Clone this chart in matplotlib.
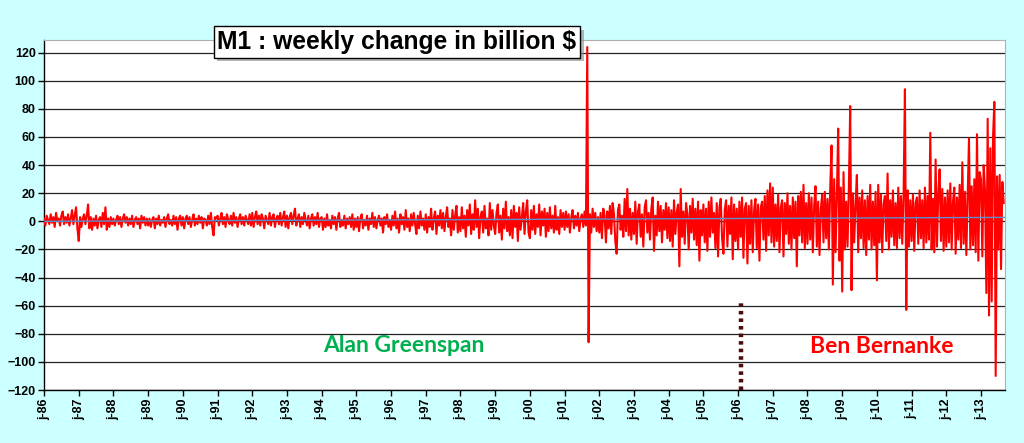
#!/usr/bin/env python3
"""
M1: weekly change in billion $ (1986 - 2013), Greenspan / Bernanke era.
Values read off the reference chart, roughly two per month.
"""
import numpy as np
import matplotlib.pyplot as plt
from matplotlib import patheffects

# =============================================================================
# Data (billion $), one list per year, 26 points per year
# =============================================================================

y1986 = [2, -3, 4, 1, -2, 5, -1, 3, -4, 6, 0, 2, -3, 4, 7, -2, 3, -1, 5, -3, 2, 8, -2, 4, 10, -5]
y1987 = [-14, 3, -4, 2, 5, -2, 4, 12, -5, 3, -6, 2, -3, 4, -5, 1, 3, -4, 6, -2, 10, -6, 2, -4, 3, -2]
y1988 = [2, -3, 1, 4, -2, 3, -4, 2, 5, -1, 3, -3, 2, -2, 4, -4, 1, 3, -2, 2, -5, 4, -1, 3, -3, 2]
y1989 = [-3, 2, -4, 1, 3, -5, 2, -2, 4, -3, 1, -1, 3, -4, 2, 5, -2, 1, -3, 4, -2, 3, -6, 2, 4, -3]
y1990 = [3, -5, 2, 4, -2, 3, -4, 1, 5, -3, 2, -2, 4, -1, 3, -5, 2, 1, -3, 4, -2, 6, -4, -10, 3, 2]
y1991 = [4, -3, 2, 6, -2, 3, -4, 5, 1, -2, 4, -3, 6, -1, 3, -4, 2, 5, -2, 3, -3, 4, 1, -2, 5, -3]
y1992 = [6, -4, 3, 7, -2, 4, -3, 5, 2, -5, 4, 1, -2, 6, -3, 3, 5, -4, 2, 4, -2, 6, -3, 3, 7, -4]
y1993 = [4, -5, 3, 6, -2, 4, 9, -3, 2, 5, -4, 3, -2, 6, 1, -3, 4, -5, 2, 5, -3, 3, -2, 6, -4, 2]
y1994 = [3, -6, 2, -4, 5, -3, 1, -5, 4, -2, 3, -6, 2, 6, -4, 1, -3, 4, -5, 2, -2, 3, -4, 5, -6, 2]
y1995 = [-4, 3, -7, 2, 5, -5, 1, -3, 4, -6, 2, -2, 6, -4, 3, -5, 1, 4, -3, 2, -8, 3, -2, 5, -4, 1]
y1996 = [-6, 4, -3, 7, -5, 2, -8, 5, -2, 3, -6, 8, -4, 2, -7, 5, -3, 6, -2, -9, 4, -5, 7, -3, 2, -6]
y1997 = [5, -8, 3, -4, 9, -6, 2, 7, -9, 4, -3, 8, -5, 6, -7, 3, 10, -4, 2, -10, 8, -6, 4, 11, -8, 3]
y1998 = [-7, 10, -5, 4, -11, 8, -3, 12, -9, 5, -6, 15, -4, 9, -12, 3, 7, -8, 11, -5, 2, -10, 13, -6, 8, -3]
y1999 = [-9, 6, 12, -8, 4, -13, 9, -5, 14, -7, 3, -10, 8, -12, 11, -4, 6, -14, 10, -6, 3, 13, -9, 7, 15, -8]
y2000 = [-12, 8, -6, 11, -9, 5, -4, 12, -10, 7, -3, 9, -11, 6, -7, 10, -5, 4, -8, 11, -6, 3, -9, 8, -4, 6]
y2001 = [-6, 7, -4, 5, -8, 3, 8, -5, 4, -3, 6, -7, 2, 5, -4, 7, -3, 124, -86, 5, -8, 9, -4, 6, -7, 3]
y2002 = [-8, 6, -12, 9, 4, -15, 7, -5, 11, -9, 13, 5, -14, -23, 8, 12, -6, 4, -11, 16, -7, 23, -10, 9, -13, 6]
y2003 = [-9, 14, -16, 7, 12, -11, 5, -18, 10, 15, -8, 6, -13, 9, 17, -21, 4, -10, 14, -7, 11, -15, 8, -6, 13, -12]
y2004 = [10, -14, 8, -18, 15, -9, 6, 12, -32, 23, -11, 7, -16, 13, 5, -20, 11, -8, 16, -13, 9, -17, 14, -28, 8, -10]
y2005 = [12, -15, 9, -21, 14, -11, 17, -8, 6, -19, 13, -25, 10, 16, -12, -23, 8, 15, -18, 11, -9, 17, -27, 12, -14, 9]
y2006 = [-20, 14, -11, 17, -26, 9, 13, -30, 11, -16, 15, -22, 8, 16, -19, 12, -28, 10, 14, -13, 18, -21, 22, -10, 27, -15]
y2007 = [24, -18, 12, -14, 19, -22, 10, 15, -25, 13, -9, 20, -16, 11, -20, 17, -12, 14, -32, 18, -10, 21, -15, 26, -19, 13]
y2008 = [-16, 20, -13, 17, -22, 11, 25, -18, 14, -24, 9, 19, -15, 21, -12, 16, -20, 23, 54, -45, 30, -22, 18, 66, -28, 24]
y2009 = [-50, 35, -20, 14, -18, 24, 82, -49, 20, -15, 12, 33, -22, 17, -12, 22, -19, 15, -24, 18, -13, 26, -20, 14, -17, 21]
y2010 = [-42, 26, -15, 19, -22, 12, 18, -14, 34, -20, 15, -11, 22, -17, 13, -19, 24, -12, 18, -16, 20, 94, -63, 22, -18, 15]
y2011 = [-14, 19, -21, 13, 17, -16, 22, -12, 15, -19, 24, -15, 18, -13, 63, -20, 16, -22, 44, -18, 20, 37, -14, 23, -21, 17]
y2012 = [-18, 22, -15, 27, -20, 14, 24, -23, 17, -13, 26, -19, 42, -16, 21, -24, 18, 59, -20, 25, -17, 30, -22, 62, -28, 35]
y2013 = [30, -25, 40, 22, -51, 73, -67, 52, -57, 60, 85, -110, 32, -20, 33, -34, 28, 13]

YEARS = list(range(1986, 2014))
YEAR_DATA = [y1986, y1987, y1988, y1989, y1990, y1991, y1992, y1993, y1994, y1995,
             y1996, y1997, y1998, y1999, y2000, y2001, y2002, y2003, y2004, y2005,
             y2006, y2007, y2008, y2009, y2010, y2011, y2012, y2013]
TICK_LABELS = [f"j-{y % 100:02d}" for y in YEARS]

TREND_ENDS = [0.0, 2.8]          # linear trend (blue), start / end value
BERNANKE_START = 2006.08         # Feb 2006
X_END = 2013.69

# =============================================================================
# Time axis (decimal years)
# =============================================================================

t = np.concatenate([yr + np.arange(len(v)) / 26.0 for yr, v in zip(YEARS, YEAR_DATA)])
values = np.concatenate([np.array(v, dtype=float) for v in YEAR_DATA])

# =============================================================================
# Plot
# =============================================================================

BG = "#ccffff"
fig = plt.figure(figsize=(10.24, 4.43), dpi=100, facecolor=BG)
ax = fig.add_axes([0.043, 0.1196, 0.9384, 0.7901])
ax.set_facecolor("white")

ax.plot(t, values, color="#ff0000", linewidth=1.5, zorder=3)
ax.plot([1986, X_END], TREND_ENDS, color="#5b8fd0", linewidth=1.0, zorder=4)

ax.plot([BERNANKE_START, BERNANKE_START], [-120, -56], color="#4a0d0d",
        linewidth=3.2, linestyle=(0, (0.8, 0.9)), zorder=5, clip_on=False)

ax.set_xlim(1986, X_END)
ax.set_ylim(-120, 129)
ax.set_yticks(np.arange(-120, 121, 20))
ax.set_xticks(YEARS)
ax.set_xticklabels(TICK_LABELS, rotation=90)
ax.grid(axis="y", color="#222222", linewidth=0.9, zorder=1)
ax.set_axisbelow(True)

for lab in ax.get_xticklabels() + ax.get_yticklabels():
    lab.set_fontfamily("Liberation Sans")
    lab.set_fontweight("bold")
    lab.set_fontsize(9)
ax.tick_params(direction="out", length=4, width=1, color="black", pad=2)

for side in ("top", "right"):
    ax.spines[side].set_color("#b0b0b0")
for side in ("left", "bottom"):
    ax.spines[side].set_color("black")
    ax.spines[side].set_linewidth(1.0)

# names
ax.text(1996.37, -88, "Alan Greenspan", color="#00b050", fontsize=16.5,
        fontweight="bold", family="Lato", ha="center", va="center", zorder=6)
ax.text(2010.15, -89, "Ben Bernanke", color="#ff0000", fontsize=16.5,
        fontweight="bold", family="Lato", ha="center", va="center", zorder=6)

# title box with shadow
title = fig.text(0.3877, 0.905, "M1 : weekly change in billion $", fontsize=17.7,
                 fontweight="bold", family="Liberation Sans", ha="center", va="center",
                 bbox=dict(boxstyle="square,pad=0.15", facecolor="white",
                           edgecolor="black", linewidth=1.0), zorder=10)
title.get_bbox_patch().set_path_effects(
    [patheffects.withSimplePatchShadow(offset=(2.5, -2.5), shadow_rgbFace="#888888", alpha=0.6)])

fig.savefig("out.png", dpi=100, facecolor=BG)
